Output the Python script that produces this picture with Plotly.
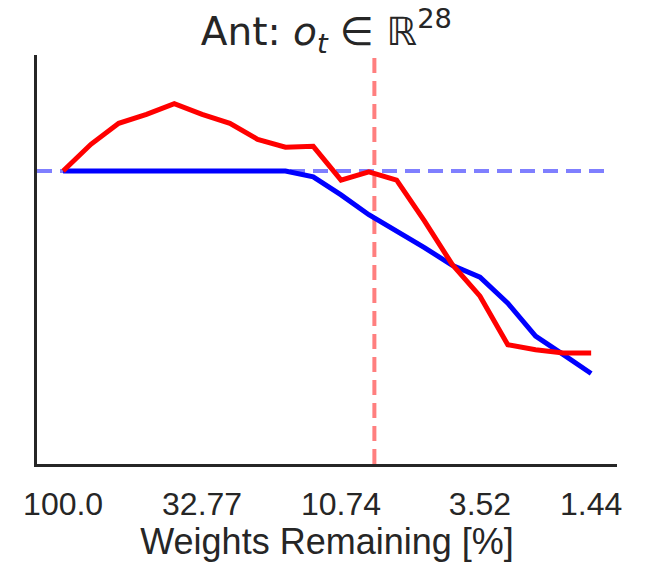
import plotly.graph_objects as go

steps = list(range(20))
tick_steps = [0, 5, 10, 15, 19]
tick_labels = ["100.0", "32.77", "10.74", "3.52", "1.44"]

red_vals = [1.0, 1.092, 1.164, 1.195, 1.232, 1.195, 1.164, 1.109, 1.082, 1.085,
            0.969, 0.997, 0.969, 0.829, 0.679, 0.570, 0.403, 0.386, 0.375, 0.375]
blue_vals = [1.0, 1.0, 1.0, 1.0, 1.0, 1.0, 1.0, 1.0, 1.0, 0.980,
             0.918, 0.850, 0.795, 0.737, 0.676, 0.635, 0.546, 0.433, 0.369, 0.304]
baseline = 1.0
vline_x = 11.2

x_range = [-0.94, 19.93]
y_range = [-0.007, 1.399]

fig = go.Figure()
fig.add_trace(go.Scatter(x=[-0.94, 19.7], y=[baseline, baseline], mode="lines",
                         line=dict(color="rgba(0,0,255,0.5)", width=4, dash="15px,8px"),
                         hoverinfo="skip", showlegend=False))
fig.add_trace(go.Scatter(x=[vline_x, vline_x], y=y_range, mode="lines",
                         line=dict(color="rgba(255,0,0,0.5)", width=4, dash="15px,8px"),
                         hoverinfo="skip", showlegend=False))
fig.add_trace(go.Scatter(x=steps, y=blue_vals, mode="lines",
                         line=dict(color="blue", width=5), showlegend=False))
fig.add_trace(go.Scatter(x=steps, y=red_vals, mode="lines",
                         line=dict(color="red", width=5), showlegend=False))

fig.update_layout(
    width=645, height=562,
    margin=dict(l=37, r=28, t=55, b=95),
    plot_bgcolor="white", paper_bgcolor="white",
    title=dict(text="Ant: <i>o</i><sub><i>t</i></sub> ∈ ℝ<sup>28</sup>",
               x=0.506, xanchor="center", yref="container", y=0.945, yanchor="middle",
               font=dict(family="DejaVu Sans", size=39, color="#262626")),
    xaxis=dict(range=x_range, tickmode="array", tickvals=tick_steps, ticktext=tick_labels,
               showgrid=False, zeroline=False, showline=True, linecolor="#262626", linewidth=3,
               ticks="outside", ticklen=10, tickcolor="rgba(0,0,0,0)",
               tickfont=dict(family="Liberation Sans", size=32, color="#262626"),
               title=dict(text="Weights Remaining [%]", standoff=2,
                          font=dict(family="Liberation Sans", size=36, color="#262626"))),
    yaxis=dict(range=y_range, showgrid=False, zeroline=False, showline=True,
               linecolor="#262626", linewidth=3, showticklabels=False, ticks=""),
)

fig.write_html("out.html")
